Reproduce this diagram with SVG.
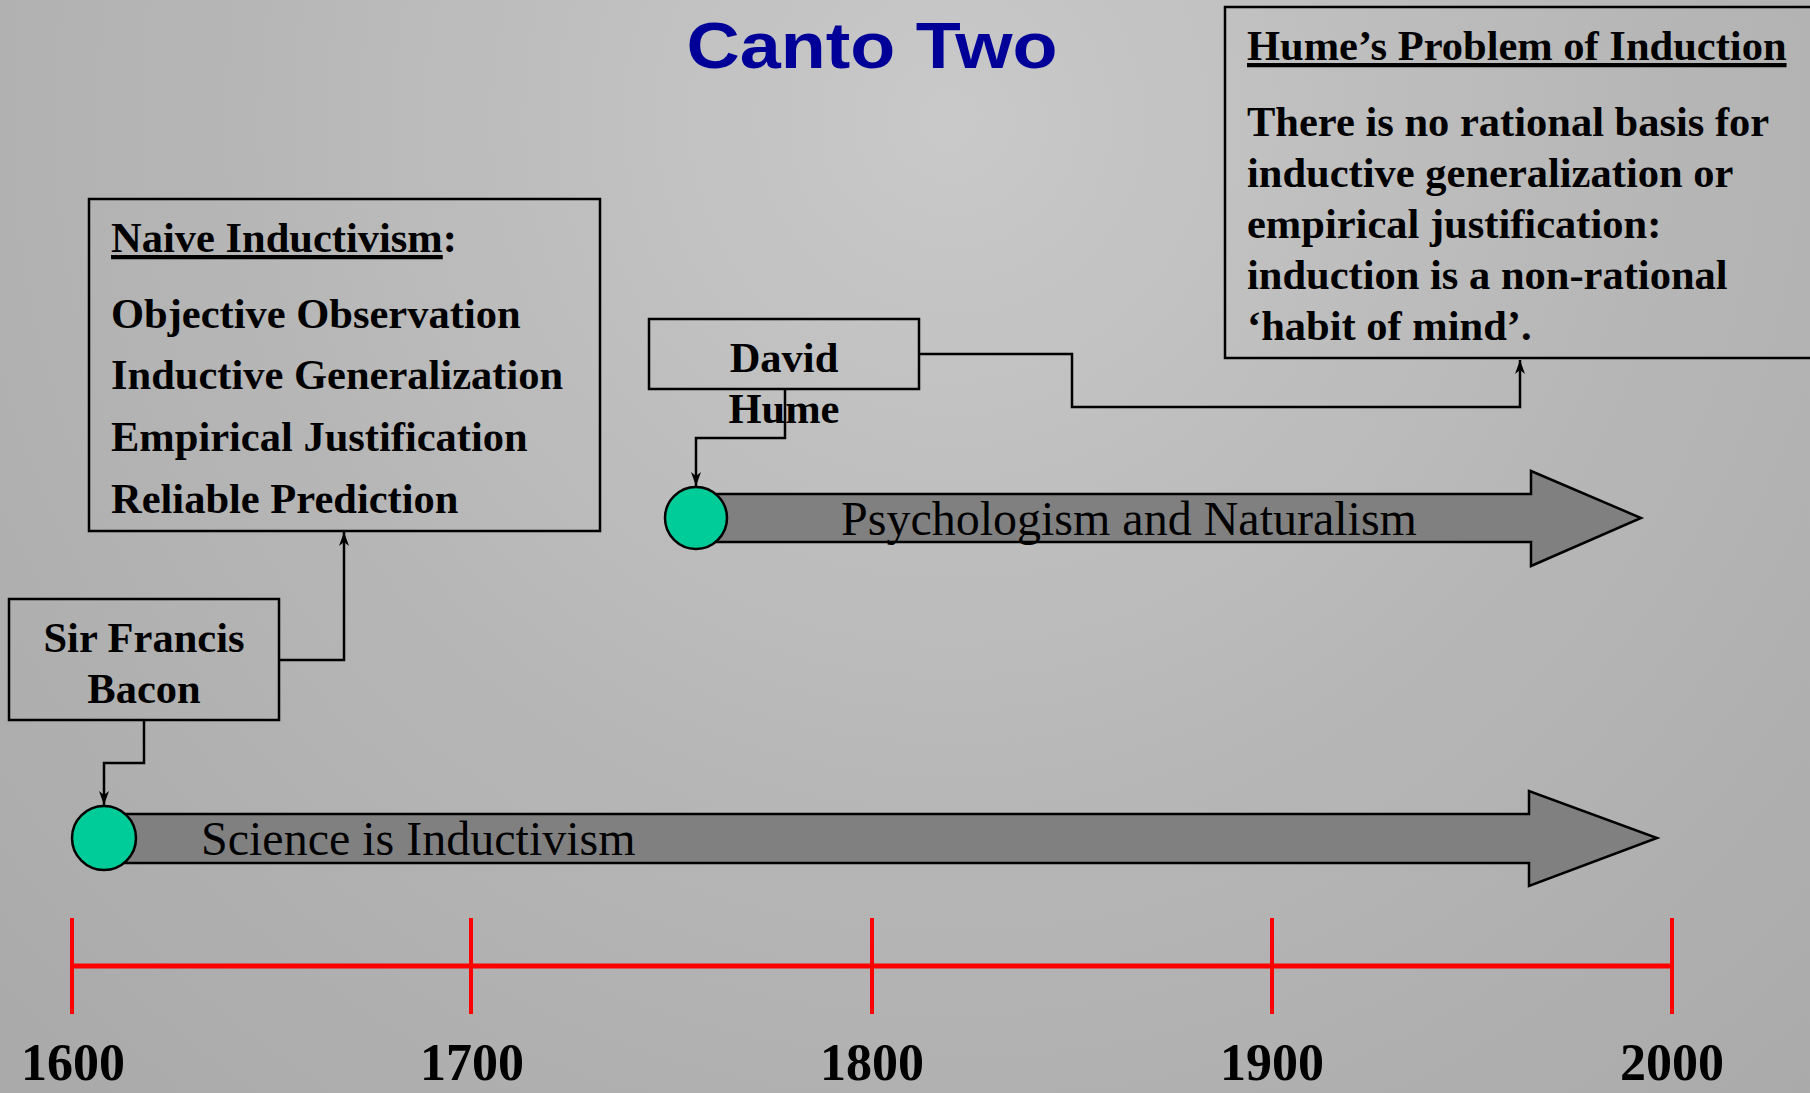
<svg xmlns="http://www.w3.org/2000/svg" width="1810" height="1093" viewBox="0 0 1810 1093">
<defs>
<radialGradient id="bg" cx="950" cy="120" r="1300" gradientUnits="userSpaceOnUse">
<stop offset="0" stop-color="#c9c9c9"/>
<stop offset="0.55" stop-color="#b6b6b6"/>
<stop offset="1" stop-color="#aaaaaa"/>
</radialGradient>
<marker id="ah" viewBox="0 0 14 10" refX="14" refY="5" markerWidth="14" markerHeight="10" markerUnits="userSpaceOnUse" orient="auto">
<path d="M0,0 L14,5 L0,10 L4,5 Z" fill="#000"/>
</marker>
<style>
.box{fill:none;stroke:#000;stroke-width:2.5}
.bt{font-family:"Liberation Serif","Times New Roman",serif;font-weight:bold;font-size:42.5px;fill:#000}
.lbl{font-family:"Liberation Serif","Times New Roman",serif;font-size:48px;fill:#000}
.yr{font-family:"Liberation Serif","Times New Roman",serif;font-weight:bold;font-size:52px;fill:#000;text-anchor:middle}
.bar{fill:#808080;stroke:#000;stroke-width:2.5;stroke-linejoin:miter}
.dot{fill:#00cc99;stroke:#000;stroke-width:2.5}
.con{fill:none;stroke:#000;stroke-width:2.5}
.red{stroke:#ff0000;fill:none}
</style>
</defs>
<rect x="0" y="0" width="1810" height="1093" fill="url(#bg)"/>

<text x="872" y="68" text-anchor="middle" font-family="Liberation Sans, Arial, sans-serif" font-weight="bold" font-size="64" fill="#000099" textLength="371" lengthAdjust="spacingAndGlyphs">Canto Two</text>

<g id="timeline">
<line class="red" x1="72" y1="966" x2="1672" y2="966" stroke-width="5"/>
<line class="red" x1="72" y1="918" x2="72" y2="1014" stroke-width="4"/>
<line class="red" x1="471" y1="918" x2="471" y2="1014" stroke-width="4"/>
<line class="red" x1="872" y1="918" x2="872" y2="1014" stroke-width="4"/>
<line class="red" x1="1272" y1="918" x2="1272" y2="1014" stroke-width="4"/>
<line class="red" x1="1672" y1="918" x2="1672" y2="1014" stroke-width="4"/>
<text class="yr" x="73" y="1080">1600</text>
<text class="yr" x="472" y="1080">1700</text>
<text class="yr" x="872" y="1080">1800</text>
<text class="yr" x="1272" y="1080">1900</text>
<text class="yr" x="1672" y="1080">2000</text>
</g>

<g id="arrow-science">
<polygon class="bar" points="104,814 1529,814 1529,791 1657,838 1529,886 1529,863 104,863"/>
<ellipse class="dot" cx="104" cy="838" rx="32" ry="32"/>
<text class="lbl" x="201" y="855">Science is Inductivism</text>
</g>

<g id="arrow-psych">
<polygon class="bar" points="696,494 1531,494 1531,471 1641,518 1531,566 1531,542 696,542"/>
<ellipse class="dot" cx="696" cy="518" rx="31" ry="31"/>
<text class="lbl" x="841" y="535">Psychologism and Naturalism</text>
</g>

<g id="node-naive">
<rect class="box" x="89" y="199" width="511" height="332"/>
<text class="bt" x="111" y="252"><tspan text-decoration="underline">Naive Inductivism</tspan>:</text>
<text class="bt" x="111" y="328">Objective Observation</text>
<text class="bt" x="111" y="389">Inductive Generalization</text>
<text class="bt" x="111" y="451">Empirical Justification</text>
<text class="bt" x="111" y="513">Reliable Prediction</text>
</g>

<g id="node-bacon">
<rect class="box" x="9" y="599" width="270" height="121"/>
<text class="bt" x="144" y="652" text-anchor="middle">Sir Francis</text>
<text class="bt" x="144" y="703" text-anchor="middle">Bacon</text>
</g>

<g id="node-hume">
<rect class="box" x="649" y="319" width="270" height="70"/>
<text class="bt" x="784" y="372" text-anchor="middle">David</text>
<text class="bt" x="784" y="423" text-anchor="middle">Hume</text>
</g>

<g id="node-problem">
<rect class="box" x="1225" y="7" width="600" height="351"/>
<text class="bt" x="1247" y="60" text-decoration="underline">Hume’s Problem of Induction</text>
<text class="bt" x="1247" y="136">There is no rational basis for</text>
<text class="bt" x="1247" y="187">inductive generalization or</text>
<text class="bt" x="1247" y="238">empirical justification:</text>
<text class="bt" x="1247" y="289">induction is a non-rational</text>
<text class="bt" x="1247" y="340">‘habit of mind’.</text>
</g>

<g id="connectors">
<polyline class="con" points="144,720 144,763 104,763 104,805" marker-end="url(#ah)"/>
<polyline class="con" points="279,660 344,660 344,532" marker-end="url(#ah)"/>
<polyline class="con" points="785,389 785,438 696,438 696,486" marker-end="url(#ah)"/>
<polyline class="con" points="919,354 1072,354 1072,407 1520,407 1520,360" marker-end="url(#ah)"/>
</g>
</svg>
